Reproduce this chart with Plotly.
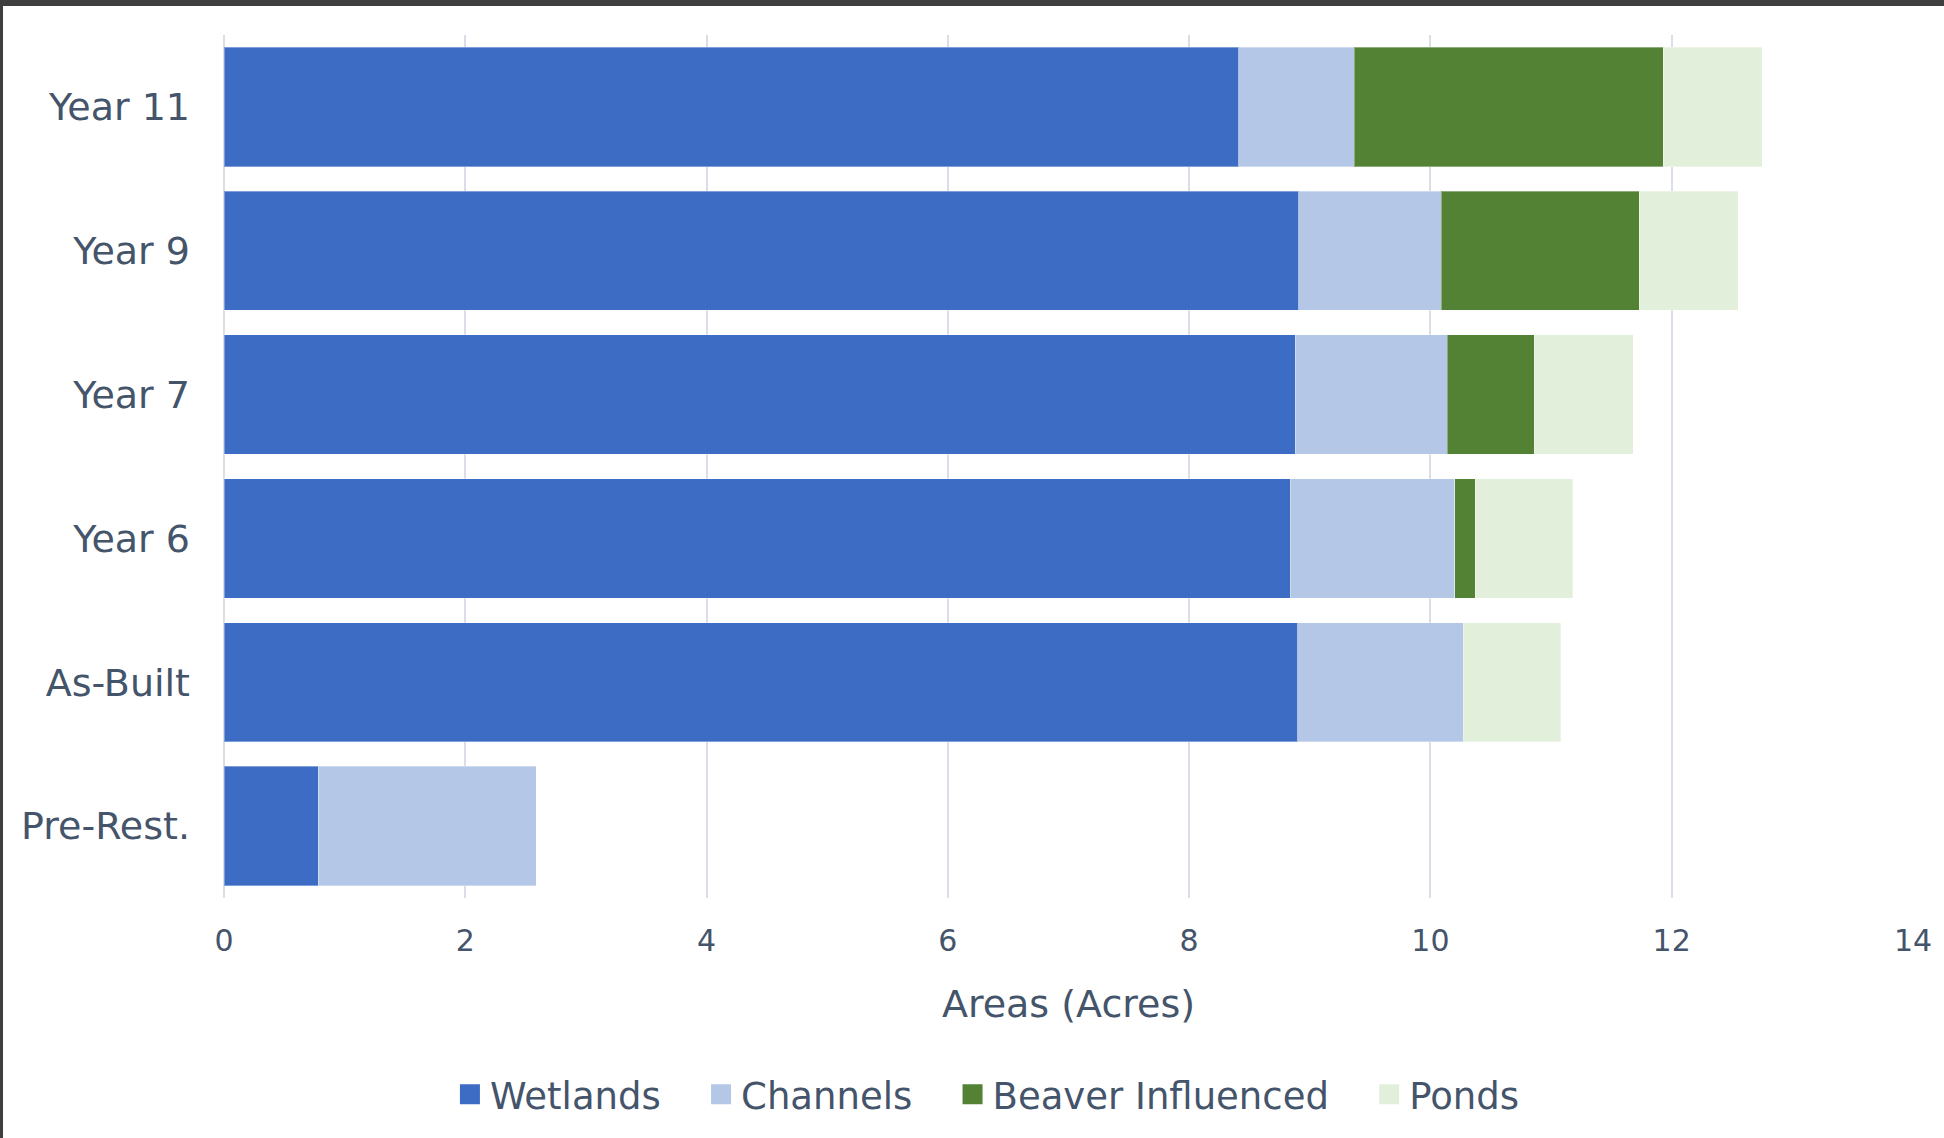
import plotly.graph_objects as go

categories = ["Pre-Rest.", "As-Built", "Year 6", "Year 7", "Year 9", "Year 11"]
wetlands = [0.78, 8.90, 8.84, 8.88, 8.91, 8.41]
channels = [1.81, 1.37, 1.36, 1.26, 1.18, 0.96]
beaver = [0.0, 0.0, 0.17, 0.72, 1.64, 2.56]
ponds = [0.0, 0.81, 0.81, 0.82, 0.82, 0.82]
x_ticks = [0, 2, 4, 6, 8, 10, 12, 14]

series = [
    ("Wetlands", wetlands, "#3d6cc5"),
    ("Channels", channels, "#b4c7e7"),
    ("Beaver Influenced", beaver, "#548235"),
    ("Ponds", ponds, "#e2efda"),
]

TXT = "#44546a"
W, H = 1944, 1138
ml, mr, mt, mb = 224, 31, 35, 240
pw, ph = W - ml - mr, H - mt - mb

fig = go.Figure()
for name, vals, col in series:
    fig.add_trace(go.Bar(
        y=categories, x=vals, name=name, orientation="h", showlegend=False,
        marker=dict(color=col, line=dict(color="rgba(255,255,255,0.35)", width=1)),
        hoverinfo="x+y+name",
    ))
# legend entries (larger square swatches)
n = len(series)
for i, (name, vals, col) in enumerate(series):
    label = name + ("\u00a0\u00a0\u00a0" if i < n - 1 else "")
    fig.add_trace(go.Scatter(
        x=[None], y=[None], mode="markers", name=label,
        marker=dict(symbol="square", size=16, color=col, line=dict(color=col, width=4)),
        showlegend=True, hoverinfo="skip",
    ))

fig.update_layout(
    width=W, height=H,
    barmode="stack", bargap=0.17,
    margin=dict(l=ml, r=mr, t=mt, b=mb, pad=0),
    paper_bgcolor="white", plot_bgcolor="white",
    font=dict(family="DejaVu Sans", size=36, color=TXT),
    xaxis=dict(
        range=[0, 14], tickvals=x_ticks, showgrid=True, gridcolor="#d9dee8", gridwidth=2,
        zeroline=True, zerolinecolor="#d9dee8", zerolinewidth=2, showline=False,
        ticks="", ticklabelstandoff=22, tickfont=dict(size=30),
        title=dict(text="Areas (Acres)", standoff=33, font=dict(size=38)),
    ),
    yaxis=dict(
        categoryorder="array", categoryarray=categories, showgrid=False,
        ticks="", ticklabelstandoff=33, tickfont=dict(size=38),
    ),
    legend=dict(
        orientation="h", x=0.452, xanchor="center", y=-0.228, yanchor="middle",
        font=dict(size=37), traceorder="normal", itemsizing="trace",
    ),
    shapes=[
        dict(type="rect", xref="paper", yref="paper",
             x0=-ml / pw, x1=(W - ml) / pw, y0=1 + (mt - 6) / ph, y1=1 + mt / ph,
             fillcolor="#3f3f3f", line=dict(width=0), layer="above"),
        dict(type="rect", xref="paper", yref="paper",
             x0=-ml / pw, x1=(3 - ml) / pw, y0=-mb / ph, y1=1 + mt / ph,
             fillcolor="#3f3f3f", line=dict(width=0), layer="above"),
    ],
)

fig.write_html(
    "out.html",
    config={"displayModeBar": False},
    post_script="document.body.style.margin='0';document.body.style.overflow='hidden';",
)
